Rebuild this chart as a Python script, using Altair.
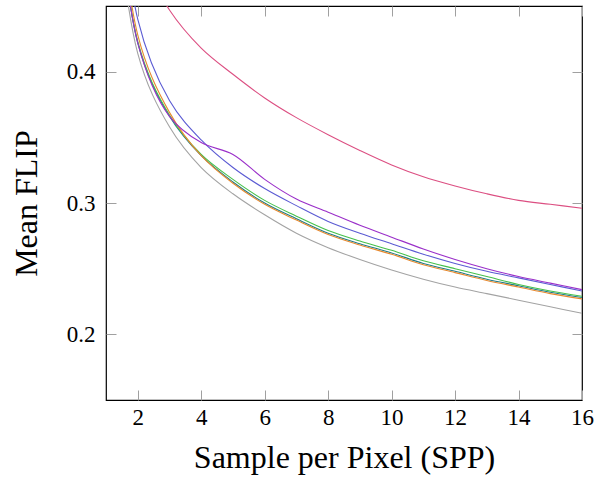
import altair as alt
import pandas as pd

spp = list(range(1, 17))

crimson = [0.62, 0.494, 0.447, 0.418, 0.398, 0.380, 0.365, 0.352, 0.340, 0.329, 0.320, 0.313, 0.307, 0.302, 0.299, 0.296]
purple  = [0.63, 0.422, 0.366, 0.346, 0.337, 0.318, 0.303, 0.293, 0.283, 0.274, 0.265, 0.257, 0.250, 0.244, 0.239, 0.234]
blue    = [0.66, 0.440, 0.378, 0.348, 0.327, 0.311, 0.298, 0.286, 0.277, 0.269, 0.261, 0.254, 0.248, 0.243, 0.238, 0.233]
green   = [0.63, 0.423, 0.367, 0.337, 0.318, 0.302, 0.290, 0.279, 0.271, 0.264, 0.256, 0.250, 0.244, 0.238, 0.233, 0.229]
teal    = [0.63, 0.422, 0.366, 0.336, 0.316, 0.300, 0.288, 0.277, 0.269, 0.262, 0.254, 0.248, 0.242, 0.237, 0.232, 0.228]
orange  = [0.64, 0.428, 0.369, 0.336, 0.315, 0.299, 0.287, 0.276, 0.268, 0.261, 0.253, 0.247, 0.241, 0.236, 0.231, 0.227]
gray    = [0.60, 0.414, 0.358, 0.327, 0.307, 0.291, 0.277, 0.266, 0.257, 0.249, 0.242, 0.236, 0.231, 0.226, 0.221, 0.216]

series = {
    "crimson": crimson, "gray": gray, "teal": teal, "green": green,
    "orange": orange, "blue": blue, "purple": purple,
}
colors = {
    "crimson": "#dc4f82", "purple": "#9a2fc9", "blue": "#5b5bd3",
    "green": "#45c04a", "teal": "#1f7c8a", "orange": "#e8892e", "gray": "#a3a3a3",
}
order = list(series.keys())

rows = []
for name, vals in series.items():
    for x, v in zip(spp, vals):
        rows.append({"spp": x, "flip": v, "series": name})
df = pd.DataFrame(rows)

xticks = [2, 4, 6, 8, 10, 12, 14, 16]
yticks = [0.2, 0.3, 0.4]

TICK = 10
tick_color = "#a0a0a0"
label_font = "Liberation Serif"
title_font = "Liberation Serif"

xscale = alt.Scale(domain=[1, 16], nice=False, zero=False)
yscale = alt.Scale(domain=[0.15, 0.45], nice=False, zero=False)

lines = alt.Chart(df).mark_line(clip=True, strokeWidth=1.1, interpolate="catmull-rom").encode(
    x=alt.X("spp:Q", scale=xscale,
            axis=alt.Axis(orient="bottom", values=xticks, format="d", offset=-TICK, tickSize=TICK,
                          domain=False, grid=False, tickColor=tick_color, tickWidth=1,
                          labelFont=label_font, labelFontSize=23, labelColor="black",
                          labelFlush=False, labelOverlap=False,
                          labelPadding=6, title="Sample per Pixel (SPP)", titleFont=title_font,
                          titleFontSize=32, titleFontWeight="normal", titleColor="black",
                          titleBaseline="alphabetic", titleY=77)),
    y=alt.Y("flip:Q", scale=yscale,
            axis=alt.Axis(orient="left", values=yticks, format=".1f", offset=-TICK, tickSize=TICK,
                          domain=False, grid=False, tickColor=tick_color, tickWidth=1,
                          labelFont=label_font, labelFontSize=23, labelColor="black",
                          labelFlush=False, labelOverlap=False,
                          labelPadding=11, title="Mean FLIP", titleFont=title_font,
                          titleFontSize=32, titleFontWeight="normal", titleColor="black",
                          titleAngle=-90, titleBaseline="middle", titleAlign="center",
                          titleX=-90, titleY=197)),
    color=alt.Color("series:N", scale=alt.Scale(domain=order, range=[colors[k] for k in order]),
                    legend=None),
    detail="series:N",
)

mirror = alt.Chart(df).mark_line(opacity=0).encode(
    x=alt.X("spp:Q", scale=xscale,
            axis=alt.Axis(orient="top", values=xticks, offset=-TICK, tickSize=TICK, domain=False,
                          grid=False, labels=False, title=None, tickColor=tick_color, tickWidth=1)),
    y=alt.Y("flip:Q", scale=yscale,
            axis=alt.Axis(orient="right", values=yticks, offset=-TICK, tickSize=TICK, domain=False,
                          grid=False, labels=False, title=None, tickColor=tick_color, tickWidth=1)),
    detail="series:N",
)

chart = alt.layer(mirror, lines).resolve_axis(x="independent", y="independent").properties(
    width=476, height=394,
    autosize=alt.AutoSizeParams(type="none"),
    padding={"left": 106, "top": 6, "right": 18, "bottom": 83},
).configure_view(stroke="black", strokeWidth=1.2)

chart.save("out.html", embed_options={"renderer": "svg", "actions": False})
